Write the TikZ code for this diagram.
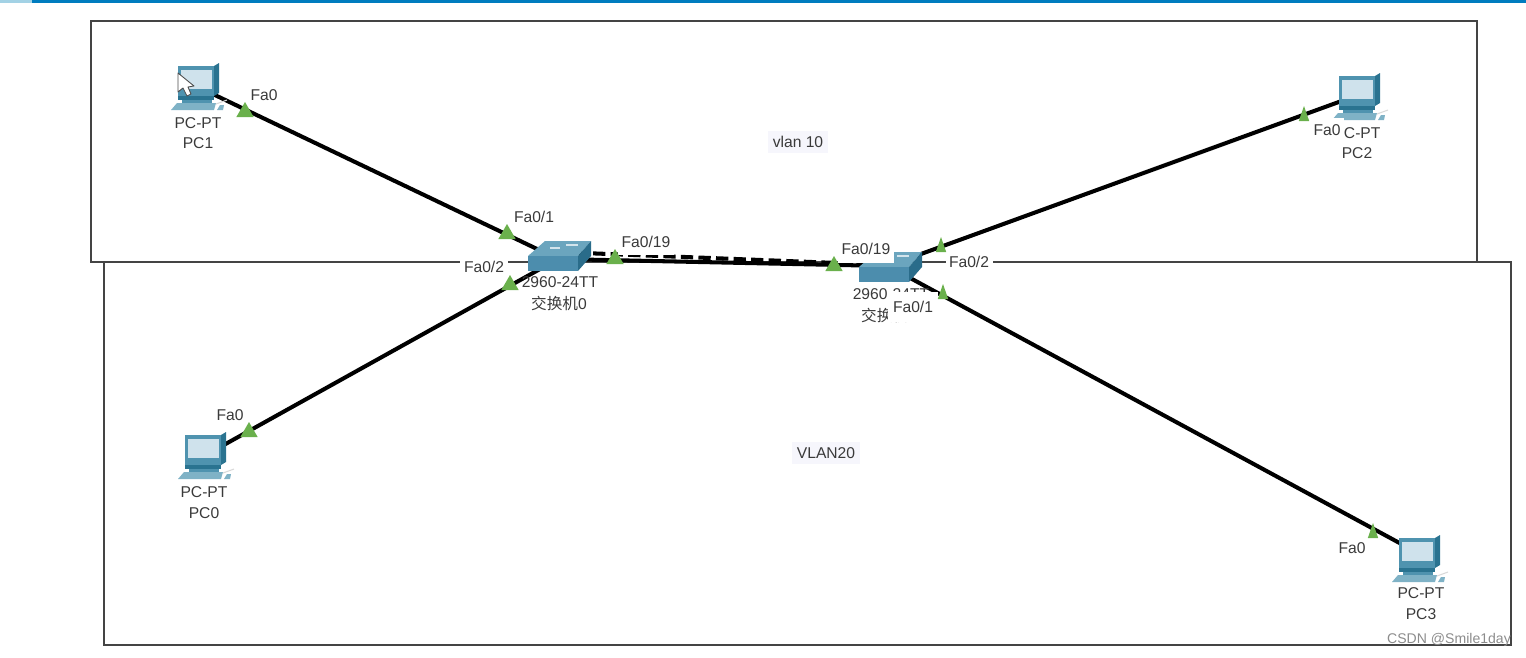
\documentclass[tikz,border=0pt]{standalone}
\usepackage{fontspec}
\setmainfont{Liberation Sans}
\newfontfamily\cjk{Noto Sans CJK SC}
\usetikzlibrary{shapes.geometric}
\definecolor{frameline}{HTML}{444444}
\definecolor{textgray}{HTML}{3A3A3A}
\definecolor{portgreen}{HTML}{6AB04C}
\definecolor{pcdark}{HTML}{2A7390}
\definecolor{pcmid}{HTML}{4F93AF}
\definecolor{pclight}{HTML}{7FB2C6}
\definecolor{pcscreen}{HTML}{CFE2EC}
\definecolor{swtop}{HTML}{6BA5BE}
\definecolor{swfront}{HTML}{4C8DAD}
\definecolor{swside}{HTML}{2A6C8A}
\definecolor{vlanbg}{HTML}{F6F6FC}
\tikzset{
  frame/.style={draw=frameline,line width=0.8pt},
  link/.style={line width=2.3pt,black},
  anchorpt/.style={inner sep=0pt,minimum size=0pt},
  port/.style={regular polygon,regular polygon sides=3,fill=portgreen,inner sep=0pt,minimum size=0.4cm},
  portn/.style={port,xscale=0.6},
  devlabel/.style={font=\fontsize{8.9}{10.5}\selectfont,text=textgray,inner sep=0pt},
  portlabel/.style={devlabel,fill=white,minimum height=0.5cm,inner xsep=2pt},
  vlanlabel/.style={devlabel,fill=vlanbg,inner sep=3pt},
  pcicon/.pic={
    \fill[pcdark] (-19,-22) -- (17,-22) -- (22,-25) -- (22,5) -- (17,8) -- (-19,8) -- cycle;
    \fill[pcmid] (-19,-22) rectangle (17,8);
    \fill[pcscreen] (-16,-18) rectangle (15,1);
    \fill[pcdark] (-19,8) rectangle (17,12);
    \fill[pcmid] (-15,12) rectangle (15,15);
    \fill[pclight] (-26,22) -- (17,22) -- (19,15) -- (-20,15) -- cycle;
    \fill[pclight] (20,22) -- (26,22) -- (27,17) -- (23,17) -- cycle;
    \draw[black!15,line width=0.6pt] (19,16) -- (30,12);
  },
  swicon/.pic={
    \fill[swtop] (-30,0) -- (-13,-15) -- (33,-15) -- (20,0) -- cycle;
    \fill[swside] (20,0) -- (33,-15) -- (33,0) -- (20,15) -- cycle;
    \fill[swfront] (-30,0) rectangle (20,15);
    \draw[white!70!swtop,line width=0.6pt] (-8,-8) -- (2,-8) (8,-11) -- (20,-11);
  }
}
\begin{document}
\begin{tikzpicture}[x=0.02cm,y=-0.02cm]
  \useasboundingbox (0,0) rectangle (1526,657);
  % window edge
  \fill[black!25!cyan!40!white] (0,0) rectangle (32,3);
  \fill[blue!35!cyan!75!black] (32,0) rectangle (1526,3);
  % vlan areas
  \draw[frame] (91,21) rectangle (1477,262);
  \draw[frame] (104,262) rectangle (1511,645);
  \node[vlanlabel] (vlan10) at (798,142) {vlan 10};
  \node[vlanlabel] (vlan20) at (826,453) {VLAN20};
  % devices
  \node[anchorpt] (pc1) at (196,86) {};
  \node[anchorpt] (pc0) at (204,456) {};
  \node[anchorpt] (pc2) at (1358,95) {};
  \node[anchorpt] (pc3) at (1418,553) {};
  \node[anchorpt] (sw0) at (558,259) {};
  \node[anchorpt] (sw1) at (888,266) {};
  \coordinate (sw0b) at (558,252);
  \coordinate (sw1b) at (888,265);
  % links
  \draw[link] (pc1) -- (sw0);
  \draw[link] (pc0) -- (sw0);
  \draw[link,dash pattern=on 7pt off 3pt] (sw0b) -- (sw1b);
  \draw[link] (sw0) -- (sw1);
  \draw[link] (pc2) -- (sw1);
  \draw[link] (pc3) -- (sw1);
  % icons
  \pic at (197,88) {pcicon};
  \pic at (204,457) {pcicon};
  \pic at (1358,98) {pcicon};
  \pic at (1418,560) {pcicon};
  \pic at (558,256) {swicon};
  \pic at (889,267) {swicon};
  % mouse pointer
  \draw[fill=white,draw=black!70,line width=0.5pt,line join=round] (178,73) -- (178,92) -- (183,88) -- (187,96) -- (191,94) -- (188,87) -- (194,86) -- cycle;
  % device names
  \node[devlabel] (pc1type) at (198,123) {PC-PT};
  \node[devlabel] (pc1name) at (198,143) {PC1};
  \node[devlabel] (pc0type) at (204,492) {PC-PT};
  \node[devlabel] (pc0name) at (204,513) {PC0};
  \node[devlabel] (pc2type) at (1357,133) {PC-PT};
  \node[devlabel] (pc2name) at (1357,153) {PC2};
  \node[devlabel] (pc3type) at (1421,593) {PC-PT};
  \node[devlabel] (pc3name) at (1421,614) {PC3};
  \node[devlabel] (sw0type) at (560,282) {2960-24TT};
  \node[devlabel] (sw0name) at (559,303) {{\cjk 交换机}0};
  \node[devlabel] (sw1type) at (891,294) {2960-24TT};
  \node[devlabel] (sw1name) at (889,315) {{\cjk 交换机}1};
  % port names
  \node[portlabel] (pc1port) at (264,95) {Fa0};
  \node[portlabel] (pc0port) at (230,415) {Fa0};
  \node[portlabel,minimum width=0.68cm] (pc2port) at (1327,130) {Fa0};
  \node[portlabel] (pc3port) at (1352,548) {Fa0};
  \node[portlabel] (sw0p1) at (534,217) {Fa0/1};
  \node[portlabel] (sw0p2) at (484,267) {Fa0/2};
  \node[portlabel] (sw0p19) at (646,242) {Fa0/19};
  \node[portlabel,minimum height=0.54cm] (sw1p19) at (866,249) {Fa0/19};
  \node[portlabel] (sw1p2) at (969,262) {Fa0/2};
  \node[portlabel,minimum width=1cm,minimum height=0.6cm] (sw1p1) at (913,307) {Fa0/1};
  % port lights
  \node[port] (pc1led) at (245,112) {};
  \node[port] (pc0led) at (249,432) {};
  \node[port] (sw0led1) at (507,234) {};
  \node[port] (sw0led2) at (510,285) {};
  \node[port] (sw0led19) at (615,259) {};
  \node[port] (sw1led19) at (834,266) {};
  \node[portn] (sw1led2) at (941,247) {};
  \node[portn] (sw1led1) at (943,294) {};
  \node[portn] (pc2led) at (1304,116) {};
  \node[portn] (pc3led) at (1373,533) {};
  \node[font=\fontsize{8}{9}\selectfont,text=black!45,inner sep=0pt] (mark) at (1449,640) {CSDN @Smile1day};
\end{tikzpicture}
\end{document}
